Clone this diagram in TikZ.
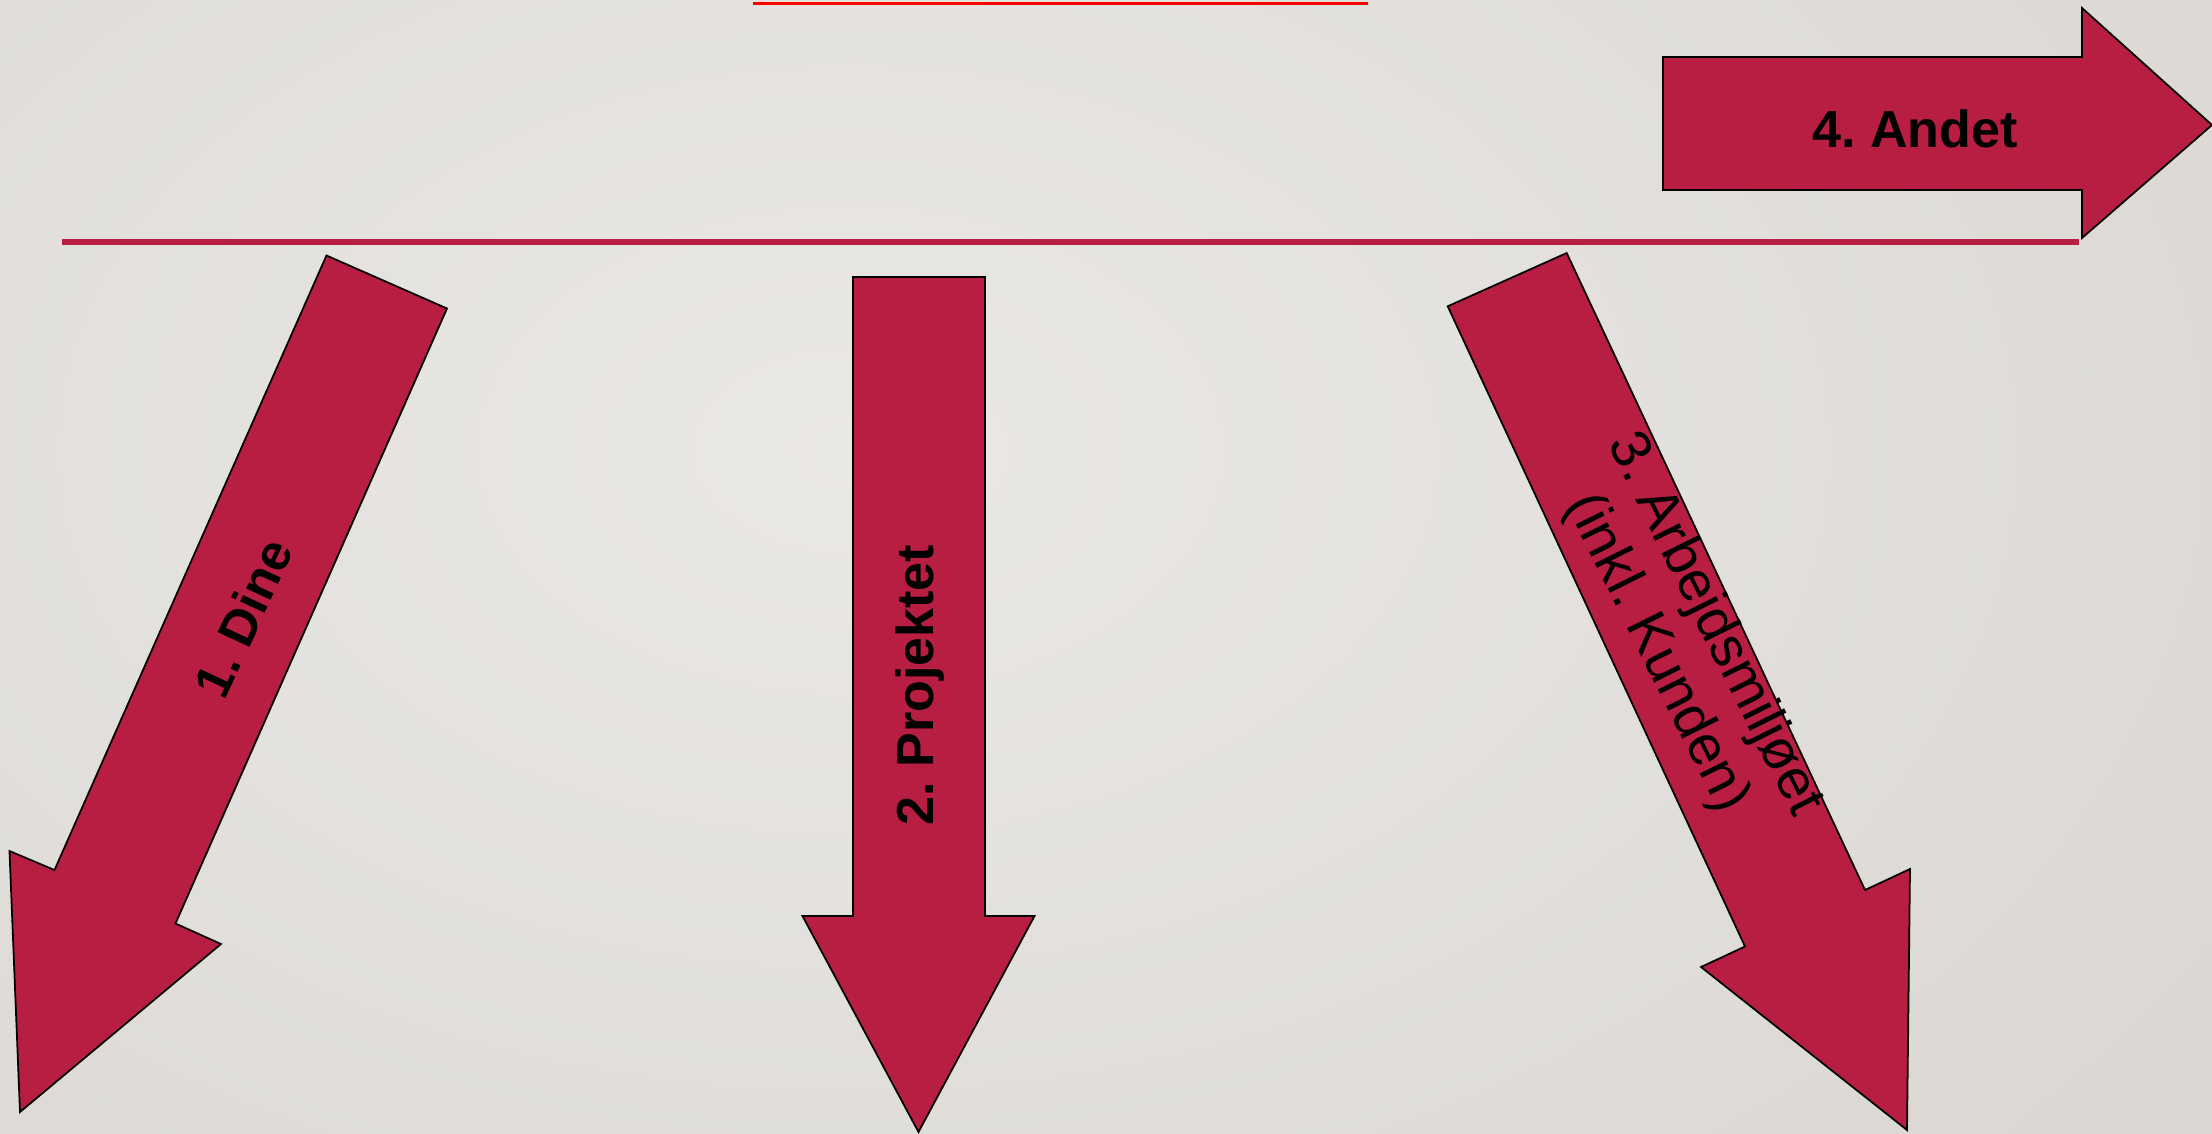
\documentclass[tikz,border=0pt]{standalone}
\usepackage{fontspec}
\setmainfont{Liberation Sans}
\usepackage{xcolor}
\usepackage{tikz}
\frenchspacing

\definecolor{crimson}{RGB}{183,30,66}
\definecolor{bglight}{RGB}{234,232,229}
\definecolor{bgdark}{RGB}{207,203,198}

\begin{document}
\begin{tikzpicture}[x=0.01cm,y=-0.01cm,
    bigarrow/.style={fill=crimson,draw=black,line width=0.5pt,line join=miter},
    lbl/.style={inner sep=0pt,font=\bfseries\fontsize{14.8}{18.2}\selectfont}]
  \useasboundingbox (0,0) rectangle (2212,1133);
  % background
  \begin{scope}
    \clip (0,0) rectangle (2212,1133);
    \shade[inner color=bglight,outer color=bgdark] (-2050,-1450) rectangle (3750,2350);
  \end{scope}
  \draw[red,line width=0.03cm] (753,3) -- (1368,3);
  \draw[crimson,line width=0.06cm] (62,242) -- (2079,242);
  % arrows
  \draw[bigarrow] (326.5,255.5) -- (447,308.5) -- (175.5,923.5) -- (221,944)
    -- (20,1112) -- (9.5,851) -- (54.5,870) -- cycle;
  \draw[bigarrow] (853,277) -- (985,277) -- (985,916) -- (1034.5,916)
    -- (918.5,1132) -- (802.5,916) -- (853,916) -- cycle;
  \draw[bigarrow] (1447.7,306.3) -- (1566.7,253) -- (1865,890) -- (1910,869)
    -- (1907,1130) -- (1701,967) -- (1745,946.5) -- cycle;
  \draw[bigarrow] (1663,57) -- (2082,57) -- (2082,8) -- (2212,125)
    -- (2082,238) -- (2082,190) -- (1663,190) -- cycle;
  % labels
  \node[lbl,font=\bfseries\fontsize{14.5}{18}\selectfont,rotate=65] (dine) at (243,618) {1. Dine};
  \node[lbl,rotate=90,anchor=base] (projekt) at (933,685) {2. Projektet};
  \node[lbl,font=\fontsize{16}{18.2}\selectfont,rotate=-63.5,align=center] (miljo) at (1685,639)
    {3. Arbejdsmiljøet\\(inkl. Kunden)};
  \node[lbl,anchor=base] (andet) at (1915,147) {4. Andet};
\end{tikzpicture}
\end{document}
